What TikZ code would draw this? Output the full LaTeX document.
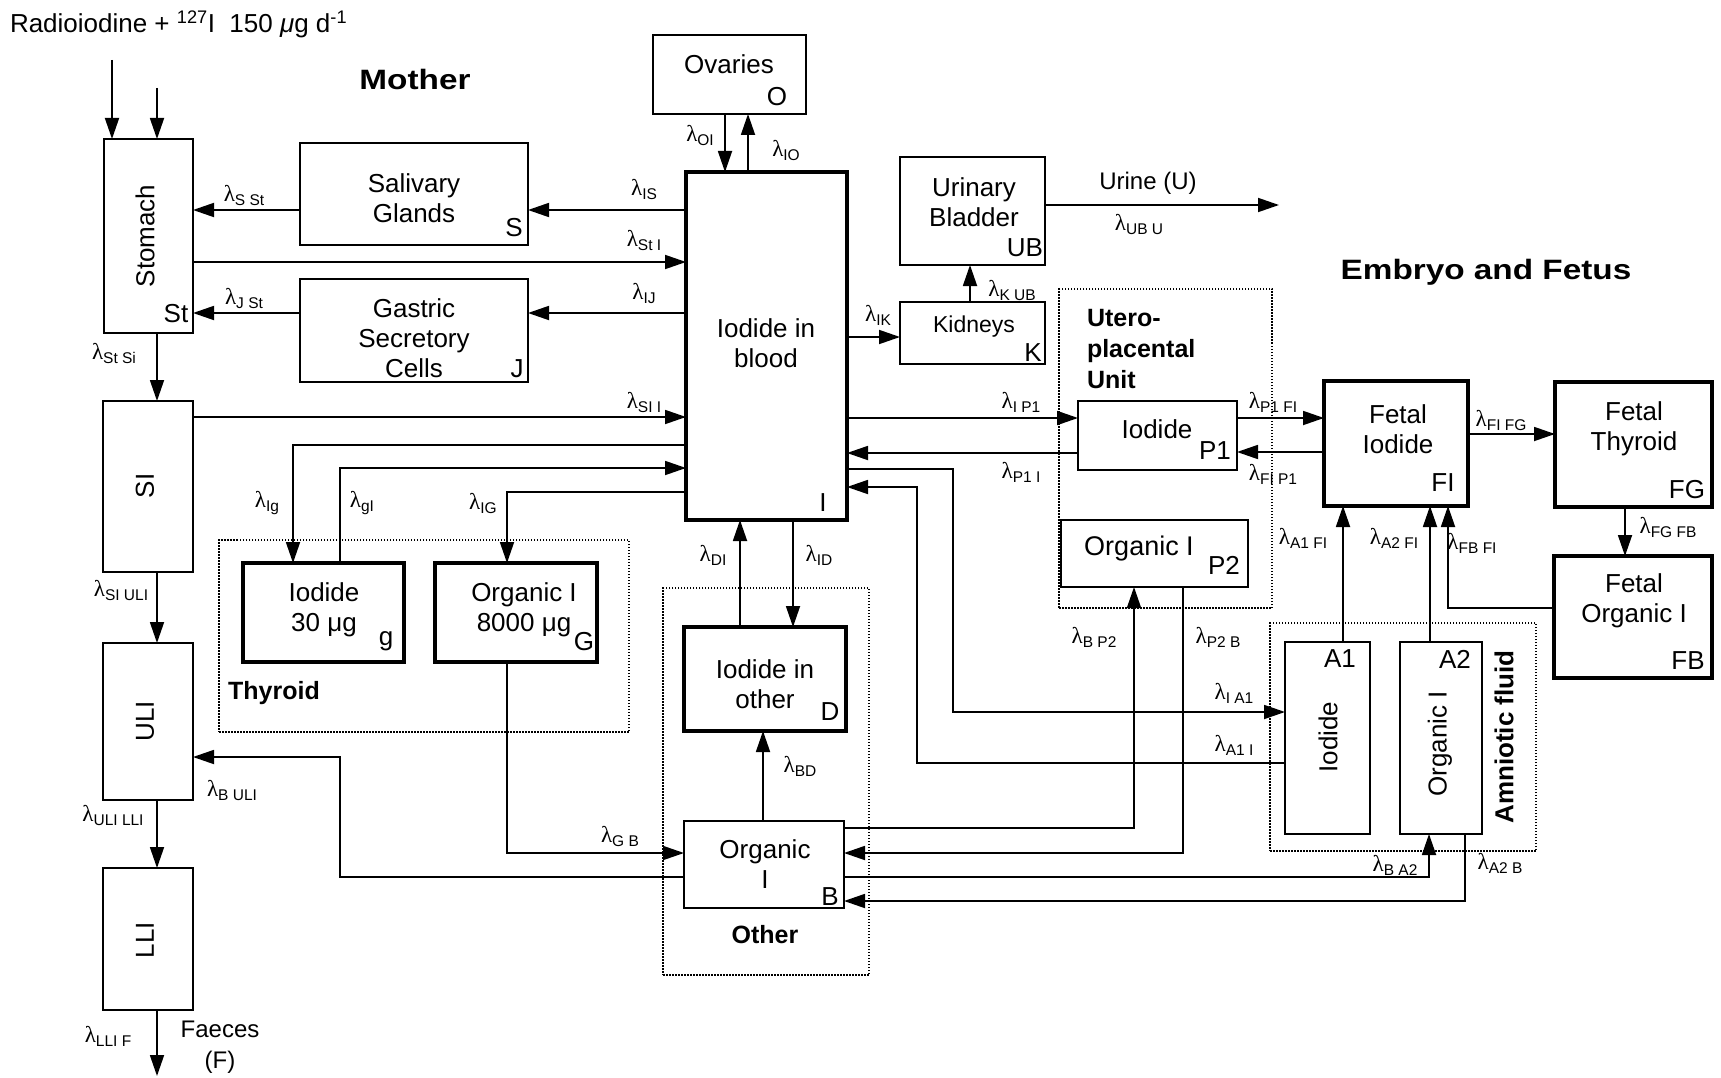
\documentclass[tikz,border=0pt]{standalone}
\usepackage{fontspec}
\setmainfont{Liberation Sans}
\newfontfamily\lamfont{Liberation Serif}
\usetikzlibrary{arrows.meta}
\newcommand{\lam}[1]{{\lamfont\fontsize{23}{23}\selectfont λ}{\fontsize{15.5}{15.5}\selectfont\raisebox{-4pt}{#1}}}
\begin{document}
\begin{tikzpicture}[x=1pt,y=-1pt,
  every node/.style={inner sep=0pt, outer sep=0pt},
  arr/.style={line width=1.8pt,-{Triangle[length=21pt,width=14pt]}},
  box/.style={draw, line width=1.8pt},
  tbox/.style={draw, line width=4.5pt},
  grp/.style={draw, line width=1.5pt, dash pattern=on 1.5pt off 1.5pt},
  txt/.style={font=\fontsize{26}{30}\selectfont, align=center},
  hdr/.style={font=\fontsize{28}{31}\selectfont\bfseries, align=center}
]
\useasboundingbox (0,0) rectangle (1721,1078);
% groups
\node[grp,minimum width=410pt,minimum height=192pt] (thy) at (424,636) {};
\node[grp,minimum width=206pt,minimum height=387pt] (oth) at (766,781.5) {};
\node[grp,minimum width=213pt,minimum height=319pt] (utp) at (1165.5,448.5) {};
\node[grp,minimum width=266pt,minimum height=228pt] (amf) at (1403,737) {};
% boxes
\node[box,minimum width=89pt,minimum height=194pt] (St) at (148.5,236) {};
\node[box,minimum width=228pt,minimum height=102pt] (S) at (414,194) {};
\node[box,minimum width=228pt,minimum height=103pt] (J) at (414,330.5) {};
\node[box,minimum width=90pt,minimum height=171pt] (SI) at (148,486.5) {};
\node[box,minimum width=90pt,minimum height=157pt] (ULI) at (148,721.5) {};
\node[box,minimum width=90pt,minimum height=142pt] (LLI) at (148,939) {};
\node[box,minimum width=153pt,minimum height=79pt] (O) at (729.5,74.5) {};
\node[tbox,minimum width=161pt,minimum height=348pt] (I) at (766.5,346) {};
\node[box,minimum width=145pt,minimum height=108pt] (UB) at (972.5,211) {};
\node[box,minimum width=145pt,minimum height=62pt] (K) at (972.5,333) {};
\node[tbox,minimum width=161pt,minimum height=99pt] (g) at (323.5,612.5) {};
\node[tbox,minimum width=162pt,minimum height=99pt] (G) at (516,612.5) {};
\node[tbox,minimum width=162pt,minimum height=104pt] (D) at (765,679) {};
\node[box,minimum width=160pt,minimum height=87pt] (B) at (764,864.5) {};
\node[box,minimum width=159pt,minimum height=69pt] (P1) at (1157.5,435.5) {};
\node[box,minimum width=187pt,minimum height=67pt] (P2) at (1154.5,553.5) {};
\node[tbox,minimum width=144pt,minimum height=125pt] (FI) at (1396,443.5) {};
\node[tbox,minimum width=157pt,minimum height=125pt] (FG) at (1633.5,444.5) {};
\node[tbox,minimum width=158pt,minimum height=122pt] (FB) at (1633,617) {};
\node[box,minimum width=85pt,minimum height=192pt] (A1) at (1327.5,738) {};
\node[box,minimum width=82pt,minimum height=192pt] (A2) at (1441,738) {};
% box texts
\node[txt,rotate=90] (tSt) at (145,236) {Stomach};
\node[txt] (tS) at (414,198) {Salivary\\Glands};
\node[txt] (tJ) at (414,338) {Gastric\\Secretory\\Cells};
\node[txt,rotate=90] (tSI) at (145,486) {SI};
\node[txt,rotate=90] (tULI) at (145,721) {ULI};
\node[txt,rotate=90] (tLLI) at (145,940) {LLI};
\node[txt] (tO) at (729,64) {Ovaries};
\node[txt] (tI) at (766,343) {Iodide in\\blood};
\node[txt] (tUB) at (974,202) {Urinary\\Bladder};
\node[txt,font=\fontsize{23}{28}\selectfont] (tK) at (974,327) {Kidneys};
\node[txt] (tg) at (324,610) {Iodide\\30 μg};
\node[txt] (tG) at (524,610) {Organic I\\8000 μg};
\node[txt] (tD) at (765,684) {Iodide in\\other};
\node[txt] (tB) at (765,864) {Organic\\I};
\node[txt] (tP1) at (1157,429) {Iodide};
\node[txt,font=\fontsize{27}{30}\selectfont] (tP2) at (1139,549) {Organic I};
\node[txt] (tFI) at (1398,429) {Fetal\\Iodide};
\node[txt] (tFG) at (1634,429) {Fetal\\Thyroid};
\node[txt] (tFB) at (1634,601) {Fetal\\Organic I};
\node[txt,rotate=90] (tA1) at (1328,737) {Iodide};
\node[txt,rotate=90] (tA2) at (1440,744) {Organic I};
% corner letters
\node[txt] (cSt) at (176,314) {St};
\node[txt] (cS) at (514,228) {S};
\node[txt] (cJ) at (517,369) {J};
\node[txt] (cO) at (777,97) {O};
\node[txt] (cI) at (823,503) {I};
\node[txt] (cUB) at (1025,248) {UB};
\node[txt] (cK) at (1033,353) {K};
\node[txt] (cg) at (386,641) {g};
\node[txt] (cG) at (584,642) {G};
\node[txt] (cD) at (830,712) {D};
\node[txt] (cB) at (830,897) {B};
\node[txt] (cP1) at (1215,451) {P1};
\node[txt] (cP2) at (1224,565) {P2};
\node[txt] (cFI) at (1443,483) {FI};
\node[txt] (cFG) at (1687,490) {FG};
\node[txt] (cFB) at (1688,661) {FB};
\node[txt] (cA1) at (1340,659) {A1};
\node[txt] (cA2) at (1455,659) {A2};
% headings and free texts
\node[txt,anchor=west] (title) at (10,24) {Radioiodine + \textsuperscript{127}I\ \ 150 \textit{μ}g d\textsuperscript{-1}};
\node[hdr,xscale=1.19] (mother) at (415,79) {Mother};
\node[hdr,xscale=1.19] (embryo) at (1486,272) {Embryo and Fetus};
\node[hdr,font=\fontsize{25}{31}\selectfont\bfseries] (thyl) at (274,693) {Thyroid};
\node[hdr,font=\fontsize{25}{31}\selectfont\bfseries] (othl) at (765,935) {Other};
\node[hdr,font=\fontsize{25}{31}\selectfont\bfseries,align=left,anchor=west] (utpl) at (1087,349) {Utero-\\placental\\Unit};
\node[hdr,font=\fontsize{26}{31}\selectfont\bfseries,rotate=90] (amfl) at (1504,737) {Amniotic fluid};
\node[txt,font=\fontsize{24}{30}\selectfont] (urine) at (1148,183) {Urine (U)};
\node[txt,font=\fontsize{24}{31}\selectfont] (faeces) at (220,1047) {Faeces\\(F)};
% free ends
\coordinate (in1) at (112,60);
\coordinate (in2) at (157,88);
\coordinate (fend) at (157,1076);
\coordinate (uend) at (1279,205);
% connectors
\draw[arr] (in1) -- (in1 |- St.north);
\draw[arr] (in2) -- (in2 |- St.north);
\draw[arr] (S.west |- 0,210) -- (St.east |- 0,210);
\draw[arr] (I.west |- 0,210) -- (S.east |- 0,210);
\draw[arr] (St.east |- 0,262) -- (I.west |- 0,262);
\draw[arr] (J.west |- 0,313) -- (St.east |- 0,313);
\draw[arr] (I.west |- 0,313) -- (J.east |- 0,313);
\draw[arr] (St.south -| 157,0) -- (SI.north -| 157,0);
\draw[arr] (SI.east |- 0,417) -- (I.west |- 0,417);
\draw[arr] (I.west |- 0,445) -| (g.north -| 293,0);
\draw[arr] (g.north -| 340,0) |- (I.west |- 0,468);
\draw[arr] (I.west |- 0,492) -| (G.north -| 507,0);
\draw[arr] (G.south -| 507,0) |- (B.west |- 0,853);
\draw[arr] (B.west |- 0,877) -- (340,877) |- (ULI.east |- 0,757);
\draw[arr] (SI.south -| 157,0) -- (ULI.north -| 157,0);
\draw[arr] (ULI.south -| 157,0) -- (LLI.north -| 157,0);
\draw[arr] (LLI.south -| 157,0) -- (fend);
\draw[arr] (O.south -| 725,0) -- (I.north -| 725,0);
\draw[arr] (I.north -| 748,0) -- (O.south -| 748,0);
\draw[arr] (I.east |- 0,337) -- (K.west |- 0,337);
\draw[arr] (K.north -| 970,0) -- (UB.south -| 970,0);
\draw[arr] (UB.east |- 0,205) -- (uend);
\draw[arr] (I.east |- 0,418) -- (P1.west |- 0,418);
\draw[arr] (P1.west |- 0,453) -- (I.east |- 0,453);
\draw[arr] (I.east |- 0,469) -- (953,469) |- (A1.west |- 0,712);
\draw[arr] (A1.west |- 0,763) -- (917,763) |- (I.east |- 0,487);
\draw[arr] (D.north -| 740,0) -- (I.south -| 740,0);
\draw[arr] (I.south -| 793,0) -- (D.north -| 793,0);
\draw[arr] (B.north -| 763,0) -- (D.south -| 763,0);
\draw[arr] (B.east |- 0,828) -| (P2.south -| 1134,0);
\draw[arr] (P2.south -| 1183,0) |- (B.east |- 0,853);
\draw[arr] (B.east |- 0,877) -| (A2.south -| 1429,0);
\draw[arr] (A2.south -| 1465,0) |- (B.east |- 0,901);
\draw[arr] (P1.east |- 0,418) -- (FI.west |- 0,418);
\draw[arr] (FI.west |- 0,452) -- (P1.east |- 0,452);
\draw[arr] (FI.east |- 0,434) -- (FG.west |- 0,434);
\draw[arr] (FG.south -| 1625,0) -- (FB.north -| 1625,0);
\draw[arr] (FB.west |- 0,608) -| (FI.south -| 1448,0);
\draw[arr] (A1.north -| 1343,0) -- (FI.south -| 1343,0);
\draw[arr] (A2.north -| 1430,0) -- (FI.south -| 1430,0);
% rate labels
\node (lSSt) at (244,195) {\lam{S St}};
\node (lIS) at (644,189) {\lam{IS}};
\node (lStI) at (644,240) {\lam{St I}};
\node (lJSt) at (244,298) {\lam{J St}};
\node (lIJ) at (644,293) {\lam{IJ}};
\node (lStSi) at (114,353) {\lam{St Si}};
\node (lSII) at (644,402) {\lam{SI I}};
\node (lIg) at (267,503) {\lam{Ig}};
\node (lgI) at (362,503) {\lam{gI}};
\node (lIG) at (483,503) {\lam{IG}};
\node (lGB) at (620,836) {\lam{G B}};
\node (lBULI) at (232,790) {\lam{B ULI}};
\node (lSIULI) at (121,590) {\lam{SI ULI}};
\node (lULILLI) at (113,815) {\lam{ULI LLI}};
\node (lLLIF) at (108,1036) {\lam{LLI F}};
\node (lOI) at (700,135) {\lam{OI}};
\node (lIO) at (786,150) {\lam{IO}};
\node (lIK) at (878,315) {\lam{IK}};
\node (lKUB) at (1012,290) {\lam{K UB}};
\node (lUBU) at (1139,224) {\lam{UB U}};
\node (lIP1) at (1021,402) {\lam{I P1}};
\node (lP1I) at (1021,472) {\lam{P1 I}};
\node (lIA1) at (1234,693) {\lam{I A1}};
\node (lA1I) at (1234,745) {\lam{A1 I}};
\node (lDI) at (713,555) {\lam{DI}};
\node (lID) at (819,555) {\lam{ID}};
\node (lBD) at (800,766) {\lam{BD}};
\node (lBP2) at (1094,637) {\lam{B P2}};
\node (lP2B) at (1218,637) {\lam{P2 B}};
\node (lBA2) at (1395,865) {\lam{B A2}};
\node (lA2B) at (1500,863) {\lam{A2 B}};
\node (lP1FI) at (1273,402) {\lam{P1 FI}};
\node (lFIP1) at (1273,474) {\lam{FI P1}};
\node (lFIFG) at (1501,420) {\lam{FI FG}};
\node (lFGFB) at (1668,527) {\lam{FG FB}};
\node (lFBFI) at (1472,543) {\lam{FB FI}};
\node (lA1FI) at (1303,538) {\lam{A1 FI}};
\node (lA2FI) at (1394,538) {\lam{A2 FI}};
\end{tikzpicture}
\end{document}
